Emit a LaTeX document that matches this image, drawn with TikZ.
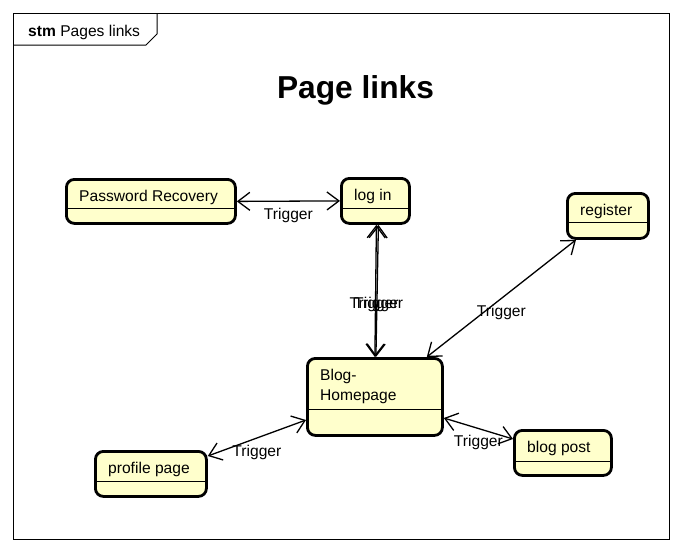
\documentclass[tikz,border=0pt]{standalone}
\usepackage{fontspec}
\setmainfont{Liberation Sans}
\usetikzlibrary{arrows.meta}
\definecolor{statefill}{RGB}{255,255,204}

\begin{document}
\begin{tikzpicture}[x=1pt, y=-1pt,
  state/.style={draw, line width=2.8pt, rounded corners=8pt, fill=statefill, inner sep=0pt, anchor=north west},
  statetext/.style={font=\fontsize{15.6pt}{20pt}\selectfont, inner sep=0pt, align=left, anchor=base west},
  trans/.style={line width=1.3pt, <->, >={Straight Barb[length=12pt,width=18pt]}},
  trig/.style={midway, yshift=-14pt, inner sep=0pt, font=\fontsize{15.6pt}{20pt}\selectfont}]
\useasboundingbox (0,0) rectangle (682,552);
% frame
\draw[line width=1pt] (13,13) rectangle (669,539);
\draw[line width=1pt] (13,45) -- (146,45) -- (157,34) -- (157,13);
\node[statetext] (frm) at (28,36) {\textbf{stm} Pages links};
\node[font=\fontsize{31.7pt}{38pt}\selectfont\bfseries, inner sep=0pt, anchor=base] (title) at (355.5,98) {Page links};
% states
\foreach \nm/\x/\y/\w/\h/\dv/\tb/\txt in {pr/65/178/169/44/30/23.5/{Password Recovery}, login/340/177/68/45/31/23.5/{log in}, reg/566/192/81/45/30/23.5/{register}, blog/306/357/135/77/52/43.5/{Blog-\\Homepage}, prof/94/450/111/45/31/23.5/{profile page}, post/513/429/97/45/32/23.5/{blog post}}{
  \node[state, minimum width=\w pt, minimum height=\h pt] (\nm) at (\x,\y) {};
  \draw[line width=1pt] ([yshift=-\dv pt]\nm.north west) -- ([yshift=-\dv pt]\nm.north east);
  \node[statetext] (\nm-t) at ([xshift=14pt, yshift=-\tb pt]\nm.north west) {\txt};
}
% transitions
\draw[trans] (pr.east) -- (login.west) node[trig] {Trigger};
\draw[trans] ([xshift=1pt]login.south) -- ([xshift=0pt]blog.north) node[trig, xshift=-1.5pt] {Trigger};
\draw[trans] ([xshift=3pt]login.south) -- ([xshift=1pt]blog.north) node[trig, xshift=1.5pt] {Trigger};
\draw[trans] ([xshift=10pt]reg.south west) -- ([xshift=-17pt]blog.north east) node[trig] {Trigger};
\draw[trans] ([yshift=-6pt]prof.north east) -- ([yshift=-63pt]blog.north west) node[trig] {Trigger};
\draw[trans] ([yshift=-61pt]blog.north east) -- ([yshift=-10pt]post.north west) node[trig] {Trigger};
\end{tikzpicture}
\end{document}
